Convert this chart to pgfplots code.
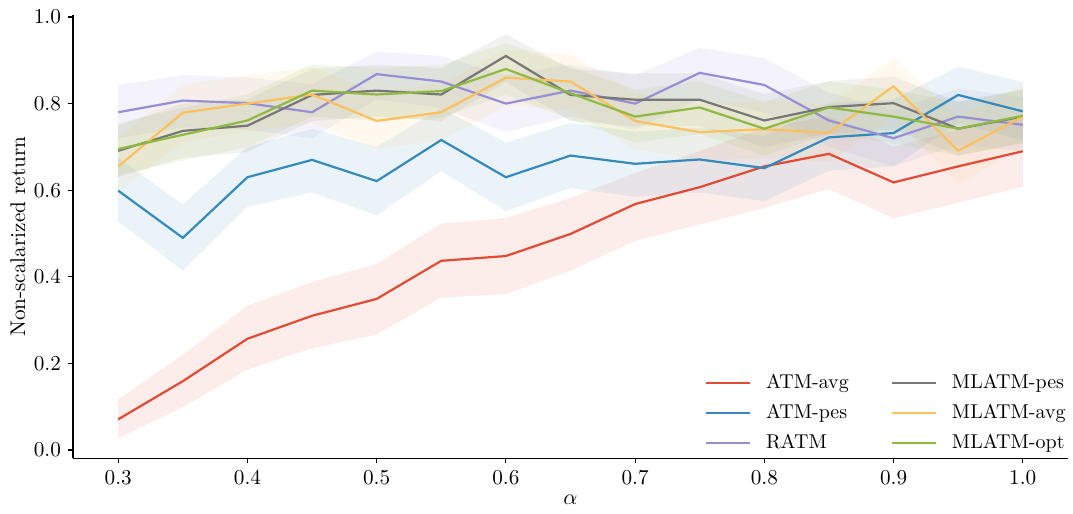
\documentclass[border=0pt]{standalone}
\usepackage{pgfplots}
\pgfplotsset{compat=1.18}
\usepackage{pgfplotstable}
\usepgfplotslibrary{fillbetween}

\definecolor{cred}{HTML}{E24A33}
\definecolor{cblue}{HTML}{348ABD}
\definecolor{cpurple}{HTML}{988ED5}
\definecolor{cgray}{HTML}{777777}
\definecolor{corange}{HTML}{FBC15E}
\definecolor{cgreen}{HTML}{8EBA42}

% x  mean  lo  hi
\pgfplotstableread{
x m lo hi
0.30 0.071 0.028 0.117
0.35 0.159 0.099 0.220
0.40 0.257 0.186 0.333
0.45 0.310 0.235 0.388
0.50 0.349 0.267 0.430
0.55 0.437 0.352 0.523
0.60 0.448 0.360 0.536
0.65 0.499 0.414 0.582
0.70 0.568 0.483 0.640
0.75 0.607 0.521 0.690
0.80 0.655 0.559 0.745
0.85 0.684 0.603 0.770
0.90 0.618 0.535 0.700
0.95 0.655 0.571 0.740
1.00 0.690 0.608 0.770
}\atmavg

\pgfplotstableread{
x m lo hi
0.30 0.599 0.528 0.675
0.35 0.490 0.414 0.567
0.40 0.630 0.562 0.700
0.45 0.670 0.595 0.742
0.50 0.621 0.542 0.700
0.55 0.716 0.644 0.790
0.60 0.630 0.552 0.710
0.65 0.680 0.605 0.755
0.70 0.661 0.585 0.735
0.75 0.671 0.595 0.745
0.80 0.651 0.575 0.725
0.85 0.722 0.645 0.800
0.90 0.732 0.655 0.810
0.95 0.820 0.755 0.885
1.00 0.782 0.715 0.850
}\atmpes

\pgfplotstableread{
x m lo hi
0.30 0.780 0.720 0.843
0.35 0.807 0.745 0.866
0.40 0.801 0.740 0.860
0.45 0.780 0.720 0.845
0.50 0.868 0.810 0.920
0.55 0.851 0.790 0.910
0.60 0.800 0.734 0.865
0.65 0.830 0.770 0.890
0.70 0.800 0.740 0.865
0.75 0.871 0.810 0.929
0.80 0.843 0.780 0.905
0.85 0.761 0.700 0.825
0.90 0.720 0.655 0.785
0.95 0.770 0.705 0.835
1.00 0.751 0.690 0.815
}\ratm

\pgfplotstableread{
x m lo hi
0.30 0.691 0.630 0.750
0.35 0.737 0.675 0.800
0.40 0.749 0.688 0.810
0.45 0.820 0.760 0.880
0.50 0.830 0.770 0.890
0.55 0.821 0.760 0.882
0.60 0.910 0.850 0.960
0.65 0.820 0.760 0.880
0.70 0.809 0.748 0.870
0.75 0.809 0.748 0.870
0.80 0.761 0.700 0.822
0.85 0.792 0.730 0.852
0.90 0.801 0.740 0.862
0.95 0.742 0.680 0.804
1.00 0.770 0.708 0.832
}\mlpes

\pgfplotstableread{
x m lo hi
0.30 0.655 0.595 0.720
0.35 0.779 0.712 0.845
0.40 0.800 0.735 0.865
0.45 0.821 0.755 0.885
0.50 0.760 0.695 0.825
0.55 0.780 0.715 0.845
0.60 0.860 0.795 0.925
0.65 0.851 0.785 0.915
0.70 0.760 0.695 0.825
0.75 0.734 0.668 0.800
0.80 0.741 0.675 0.806
0.85 0.732 0.665 0.798
0.90 0.840 0.770 0.905
0.95 0.691 0.613 0.770
1.00 0.770 0.700 0.840
}\mlavg

\pgfplotstableread{
x m lo hi
0.30 0.695 0.635 0.755
0.35 0.728 0.668 0.790
0.40 0.761 0.700 0.822
0.45 0.830 0.770 0.890
0.50 0.821 0.760 0.882
0.55 0.829 0.768 0.890
0.60 0.880 0.820 0.940
0.65 0.824 0.763 0.885
0.70 0.770 0.710 0.832
0.75 0.791 0.730 0.852
0.80 0.742 0.680 0.804
0.85 0.791 0.730 0.852
0.90 0.770 0.708 0.832
0.95 0.742 0.680 0.804
1.00 0.772 0.710 0.834
}\mlopt

\newcommand{\band}[3]{%
  \addplot[draw=none, forget plot, name path=#2hi] table[x=x,y=hi] {#1};
  \addplot[draw=none, forget plot, name path=#2lo] table[x=x,y=lo] {#1};
  \addplot[fill=#3, fill opacity=0.1, draw=none, forget plot] fill between[of=#2hi and #2lo];
}

\begin{document}
\begin{tikzpicture}
\begin{axis}[
  at={(0,0)}, anchor=south west,
  scale only axis,
  width=497.5pt, height=221.75pt,
  xmin=0.265, xmax=1.035,
  ymin=-0.0195, ymax=1.0046,
  axis x line*=bottom, axis y line*=left,
  axis line style={-, line width=0.6pt},
  tick align=outside,
  major tick length=2.5pt,
  tick style={black, line width=0.6pt},
  xtick={0.3,0.4,0.5,0.6,0.7,0.8,0.9,1.0},
  ytick={0,0.2,0.4,0.6,0.8,1.0},
  xticklabels={0.3,0.4,0.5,0.6,0.7,0.8,0.9,1.0},
  yticklabels={0.0,0.2,0.4,0.6,0.8,1.0},
  tick label style={font=\fontsize{10.6}{13}\selectfont},
  label style={font=\fontsize{10.6}{13}\selectfont},
  xlabel={$\alpha$},
  ylabel={Non-scalarized return},
  xlabel style={at={(axis description cs:0.5,-0.0936)}, anchor=center},
  ylabel style={at={(axis description cs:-0.0553,0.5)}, anchor=center},
  legend columns=2,
  legend cell align=left,
  legend style={at={(axis description cs:0.635,0.001)}, anchor=south west,
    draw=none, fill=none, inner sep=0pt, outer sep=0pt,
    font=\fontsize{10}{12}\selectfont,
    row sep=0pt,
    nodes={text height=7pt, text depth=2pt, inner sep=3pt},
    /tikz/every odd column/.append style={column sep=4.5pt},
    /tikz/column 2/.append style={column sep=18pt}},
  legend image code/.code={\draw[#1] (0pt,0pt) -- (22pt,0pt);},
  clip=false,
]
\band{\atmavg}{a}{cred}
\band{\atmpes}{b}{cblue}
\band{\ratm}{c}{cpurple}
\band{\mlpes}{d}{cgray}
\band{\mlavg}{e}{corange}
\band{\mlopt}{f}{cgreen}

\addplot[cred, line width=1.1pt, forget plot] table[x=x,y=m] {\atmavg};
\addplot[cblue, line width=1.1pt, forget plot] table[x=x,y=m] {\atmpes};
\addplot[cpurple, line width=1.1pt, forget plot] table[x=x,y=m] {\ratm};
\addplot[cgray, line width=1.1pt, forget plot] table[x=x,y=m] {\mlpes};
\addplot[corange, line width=1.1pt, forget plot] table[x=x,y=m] {\mlavg};
\addplot[cgreen, line width=1.1pt, forget plot] table[x=x,y=m] {\mlopt};

\addlegendimage{cred, line width=1.1pt}\addlegendentry{ATM-avg}
\addlegendimage{cgray, line width=1.1pt}\addlegendentry{MLATM-pes}
\addlegendimage{cblue, line width=1.1pt}\addlegendentry{ATM-pes}
\addlegendimage{corange, line width=1.1pt}\addlegendentry{MLATM-avg}
\addlegendimage{cpurple, line width=1.1pt}\addlegendentry{RATM}
\addlegendimage{cgreen, line width=1.1pt}\addlegendentry{MLATM-opt}
\end{axis}
\pgfresetboundingbox
\useasboundingbox (-36.5pt,-27.75pt) rectangle (500pt,229.25pt);
\end{tikzpicture}
\end{document}
